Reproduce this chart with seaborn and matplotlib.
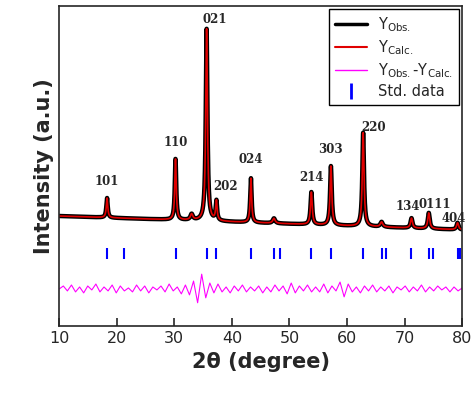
import numpy as np
import matplotlib
matplotlib.use("Agg")
import matplotlib.pyplot as plt
import seaborn as sns
import pandas as pd
from matplotlib.lines import Line2D

sns.set_theme(style="ticks")
plt.rcParams['font.family'] = ['DejaVu Sans']

# peak table: position (2theta), height above background, FWHM
peak_pos = [18.3, 30.2, 35.6, 37.3, 43.3, 53.8, 57.2, 62.8, 71.2, 74.2, 79.2, 33.0, 47.3, 66.0]
peak_h = [20, 62, 195, 20, 45, 33, 60, 95, 10, 16, 7, 6, 5, 5]
peak_w = [0.3, 0.3, 0.35, 0.3, 0.3, 0.35, 0.35, 0.35, 0.4, 0.4, 0.4, 0.5, 0.5, 0.5]
hkl_labels = ["101", "110", "021", "202", "024", "214", "303", "220", "134", "0111", "404"]
label_x = [18.3, 30.2, 37.0, 38.9, 43.3, 53.8, 57.2, 64.6, 70.6, 75.2, 78.6]
label_y = [140, 180, 305, 135, 163, 145, 173, 195, 115, 117, 103]
bg_start, bg_end = 112, 98
std_pos = [18.3, 21.3, 30.2, 35.6, 37.3, 43.3, 47.3, 48.3, 53.8, 57.2, 62.8, 66.0, 66.8,
           71.2, 74.2, 75.0, 79.2, 79.6]
diff_vals = [0, 3, -2, 4, -3, 2, -4, 3, -1, 5, -3, 2, -2, 4, -4, 3, -2, 1, -3, 4,
             -2, 3, -4, 2, -1, 3, -3, 5, -2, 2, -5, 4, -6, 8, -14, 15, -9, 6, -4, 5,
             -3, 2, -4, 3, -2, 4, -3, 2, -2, 3, -4, 2, -3, 4, -2, 3, -5, 6, -4, 3,
             -2, 4, -3, 2, -3, 5, -4, 3, -2, 7, -8, 5, -3, 2, -4, 3, -2, 4, -3, 2,
             -2, 3, -4, 2, -1, 3, -3, 2, -2, 4, -3, 2, -2, 3, -1, 2, -3, 2, -2, 1]
diff_base = 38

x = np.linspace(10, 80, 3000)
bg = np.linspace(bg_start, bg_end, x.size)
calc = bg.copy()
for p, h, w in zip(peak_pos, peak_h, peak_w):
    g = (w / 2) ** 2
    calc += h * g / ((x - p) ** 2 + g)
df = pd.DataFrame({"x": x, "calc": calc})
xd = np.linspace(10, 80, len(diff_vals))
dd = pd.DataFrame({"x": xd, "d": np.array(diff_vals) + diff_base})

fig, ax = plt.subplots(figsize=(4.74, 4.08), dpi=100)
fig.subplots_adjust(left=0.125, right=0.975, top=0.985, bottom=0.2)
sns.lineplot(data=df, x="x", y="calc", ax=ax, color="black", lw=3.2)
sns.lineplot(data=df, x="x", y="calc", ax=ax, color="#e00000", lw=1.2)
sns.lineplot(data=dd, x="x", y="d", ax=ax, color="#ff00ff", lw=0.8)
ax.vlines(std_pos, 68, 80, color="#0000ff", lw=1.5)
for t, lx, ly in zip(hkl_labels, label_x, label_y):
    ax.text(lx, ly, t, ha="center", va="bottom", fontsize=8.5, fontweight="bold",
            family="DejaVu Serif")
ax.set_xlim(10, 80)
ax.set_ylim(0, 325)
ax.set_yticks([])
ax.set_xticks(range(10, 81, 10))
ax.tick_params(axis="x", labelsize=11.5, direction="in", width=1.2)
for s in ax.spines.values():
    s.set_linewidth(1.2)
ax.set_xlabel("2θ (degree)", fontsize=15, fontweight="bold")
ax.set_ylabel("Intensity (a.u.)", fontsize=15, fontweight="bold")
handles = [Line2D([], [], color="black", lw=2.5),
           Line2D([], [], color="#e00000", lw=1.5),
           Line2D([], [], color="#ff00ff", lw=1),
           Line2D([], [], color="#0000ff", marker="|", ls="none", markersize=12, mew=2)]
labels = ["Y$_{\\mathregular{Obs.}}$", "Y$_{\\mathregular{Calc.}}$",
          "Y$_{\\mathregular{Obs.}}$-Y$_{\\mathregular{Calc.}}$", "Std. data"]
ax.legend(handles, labels, loc="upper right", fontsize=10.5, frameon=True,
          edgecolor="black", fancybox=False, framealpha=1, handlelength=2.2,
          borderaxespad=0.2, labelspacing=0.3)
fig.savefig("out.png", dpi=100)
